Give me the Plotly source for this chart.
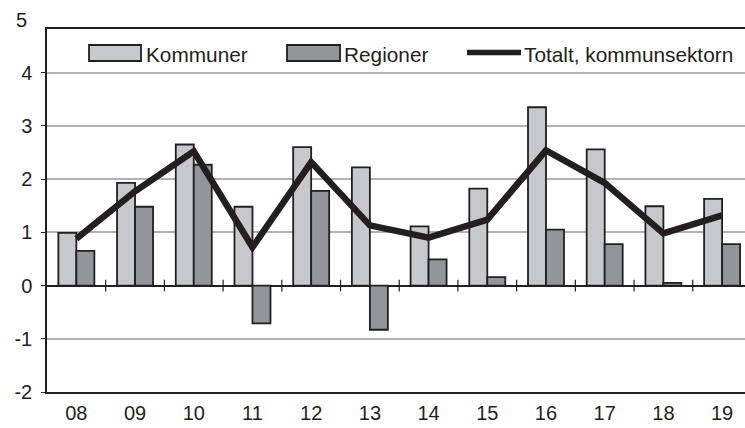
import plotly.graph_objects as go

# data
years = ["08", "09", "10", "11", "12", "13", "14", "15", "16", "17", "18", "19"]
kommuner = [0.99, 1.93, 2.65, 1.48, 2.60, 2.22, 1.11, 1.82, 3.35, 2.56, 1.49, 1.63]
regioner = [0.65, 1.48, 2.27, -0.71, 1.78, -0.83, 0.49, 0.16, 1.05, 0.78, 0.05, 0.78]
totalt = [0.88, 1.77, 2.52, 0.72, 2.32, 1.13, 0.90, 1.24, 2.54, 1.93, 0.98, 1.32]
y_ticks = [-2, -1, 0, 1, 2, 3, 4]

INK = "#231f20"
LIGHT = "#c7c8ca"
DARK = "#939598"
FONT = "Liberation Sans, Arial, sans-serif"

W, H = 745, 428
ML, MR, MT, MB = 47, 0, 29, 36
PW, PH = W - ML - MR, H - MT - MB


def px(x):
    return (x - ML) / PW


def py(y):
    return (H - MB - y) / PH


fig = go.Figure()
fig.add_trace(go.Bar(x=years, y=kommuner, name="Kommuner",
                     marker=dict(color=LIGHT, line=dict(color=INK, width=1.8))))
fig.add_trace(go.Bar(x=years, y=regioner, name="Regioner",
                     marker=dict(color=DARK, line=dict(color=INK, width=1.8))))
fig.add_trace(go.Scatter(x=years, y=totalt, name="Totalt, kommunsektorn", mode="lines",
                         line=dict(color=INK, width=6.5)))

shapes = []
# tick marks crossing the zero line at category boundaries
for i in range(len(years) - 1):
    shapes.append(dict(type="line", xref="x", yref="y", x0=i + 0.5, x1=i + 0.5,
                       y0=-0.11, y1=0.11, line=dict(color=INK, width=1.2)))

# hand-made legend
shapes += [
    dict(type="rect", xref="paper", yref="paper", x0=px(89), x1=px(141), y0=py(61), y1=py(45),
         fillcolor=LIGHT, line=dict(color=INK, width=1.8)),
    dict(type="rect", xref="paper", yref="paper", x0=px(287), x1=px(340), y0=py(61), y1=py(45),
         fillcolor=DARK, line=dict(color=INK, width=1.8)),
    dict(type="line", xref="paper", yref="paper", x0=px(467), x1=px(521), y0=py(52.5), y1=py(52.5),
         line=dict(color=INK, width=5.5)),
]
legend_txt = [("Kommuner", 144), ("Regioner", 342), ("Totalt, kommunsektorn", 522)]
annotations = [dict(text=t, x=px(x0), y=py(54), xref="paper", yref="paper", xanchor="left",
                    yanchor="middle", showarrow=False, font=dict(size=20.8, color=INK))
               for t, x0 in legend_txt]
# top label "5" sits above the clipped plot frame
annotations.append(dict(text="5", xref="paper", yref="paper", x=px(29), y=py(20), xanchor="right",
                        yanchor="middle", showarrow=False, font=dict(size=20, color=INK)))

fig.update_layout(
    width=W, height=H,
    margin=dict(l=ML, r=MR, t=MT, b=MB),
    paper_bgcolor="white", plot_bgcolor="white",
    barmode="group", bargap=0.387, bargroupgap=0,
    showlegend=False,
    font=dict(family=FONT, size=20, color=INK),
    shapes=shapes, annotations=annotations,
)
fig.update_xaxes(type="category", range=[-0.5, 11.39], showgrid=False, ticks="",
                 showline=True, mirror=True, linecolor=INK, linewidth=1.5,
                 ticklabelstandoff=2, tickfont=dict(size=20))
fig.update_yaxes(range=[-2, 4.82], tickvals=y_ticks, ticktext=[str(v) for v in y_ticks],
                 showgrid=True, gridcolor="#b1b1b1", gridwidth=1.5,
                 zeroline=True, zerolinecolor=INK, zerolinewidth=1.5,
                 showline=True, linecolor=INK, linewidth=1.5,
                 ticks="outside", ticklen=4, tickcolor=INK, ticklabelstandoff=5,
                 tickfont=dict(size=20))

fig.write_html("out.html", config={"displayModeBar": False},
               post_script="document.body.style.margin='0';")
